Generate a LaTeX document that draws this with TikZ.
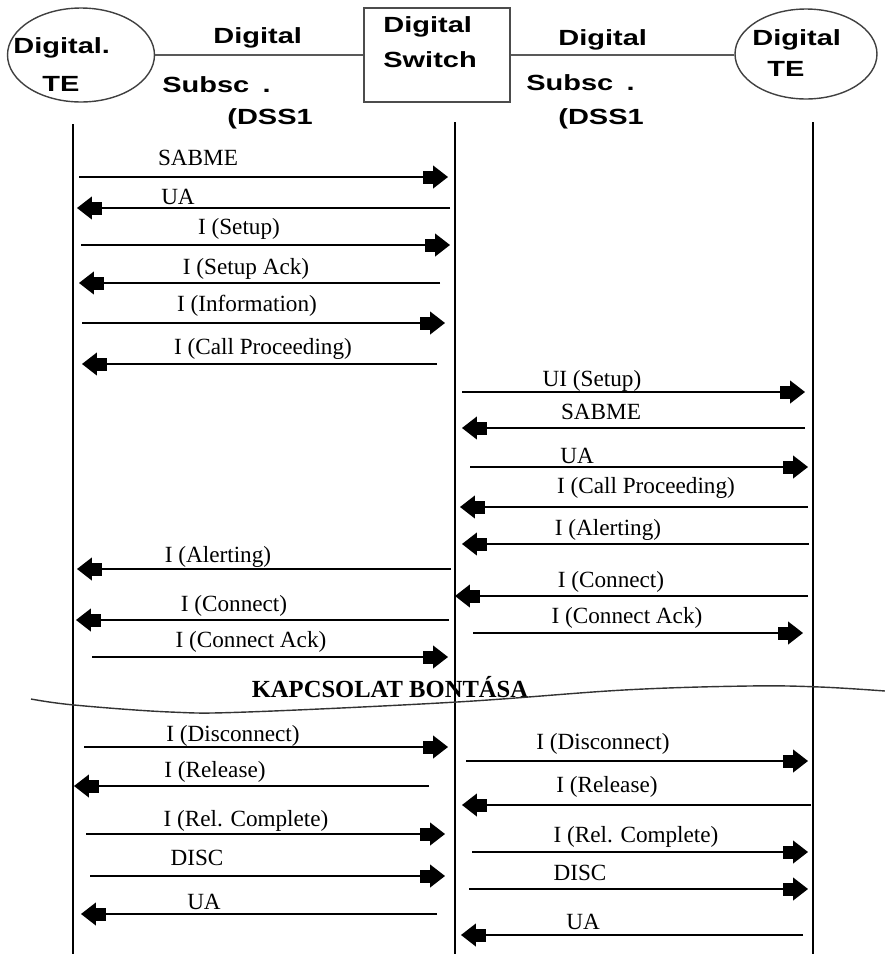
\documentclass[tikz,border=0pt]{standalone}
\usepackage{fontspec}
\setmainfont{Liberation Serif}
\newfontfamily\hdrfont{Liberation Sans}[FakeStretch=1.32]
\usetikzlibrary{shapes.geometric,arrows.meta}

\begin{document}
\begin{tikzpicture}[
  x=0.02cm, y=-0.02cm,
  lbl/.style={inner sep=0pt, font=\fontsize{13.2}{15}\selectfont},
  hdr/.style={inner sep=0pt, anchor=base west, font=\hdrfont\bfseries\fontsize{12.5}{14}\selectfont},
  term/.style={ellipse, draw=black!75, line width=0.8pt, inner sep=0pt},
  switchbox/.style={rectangle, draw=black!70, line width=1.1pt, inner sep=0pt},
  link/.style={draw=black!65, line width=1.1pt},
  life/.style={line width=0.8pt},
  msg/.style={line width=0.8pt, -{Rectangle[length=5.7pt,width=7.4pt,sep=0pt]Triangle[length=8.5pt,width=13pt,sep=0pt]}}
]
\useasboundingbox (0,0) rectangle (885,954);

% header
\node[term, minimum width=2.94cm, minimum height=1.88cm] (teA) at (81,55) {};
\node[switchbox, minimum width=2.92cm, minimum height=1.88cm] (sw) at (437,55) {};
\node[term, minimum width=2.84cm, minimum height=1.80cm] (teB) at (806,54) {};
\draw[link] (teA.east) -- (sw.west);
\draw[link] (sw.east) -- (sw.east -| teB.west);

\node[hdr] (teAa) at (13,53) {Digital.};
\node[hdr] (teAb) at (42,91) {TE};
\node[hdr] (swa) at (383,32) {Digital};
\node[hdr] (swb) at (383,67) {Switch};
\node[hdr] (teBa) at (752,45) {Digital};
\node[hdr] (teBb) at (767,76) {TE};
\node[hdr] (subA1) at (213,43) {Digital};
\node[hdr] (subA2) at (162,92) {Subsc\hspace{0.6em}.};
\node[hdr] (subA3) at (227,124) {(DSS1};
\node[hdr] (subB1) at (558,45) {Digital};
\node[hdr] (subB2) at (526,90) {Subsc\hspace{0.6em}.};
\node[hdr] (subB3) at (558,124) {(DSS1};

% lifelines
\coordinate (lifeAt) at (73,124);  \coordinate (lifeAb) at (73,954);
\coordinate (lifeSt) at (455,122); \coordinate (lifeSb) at (455,954);
\coordinate (lifeBt) at (813,122); \coordinate (lifeBb) at (813,954);
\draw[life] (lifeAt) -- (lifeAb);
\draw[life] (lifeSt) -- (lifeSb);
\draw[life] (lifeBt) -- (lifeBb);

% call setup, calling side
\coordinate (m1a) at (79,177);  \coordinate (m1b) at (448,177);
\node[lbl] (m1l) at (198,158) {SABME};
\draw[msg] (m1a) -- (m1b);
\coordinate (m2a) at (450,208); \coordinate (m2b) at (77,208);
\node[lbl] (m2l) at (178,197) {UA};
\draw[msg] (m2a) -- (m2b);
\coordinate (m3a) at (81,245);  \coordinate (m3b) at (450,245);
\node[lbl] (m3l) at (239,229) {I (Setup)};
\draw[msg] (m3a) -- (m3b);
\coordinate (m4a) at (440,283); \coordinate (m4b) at (79,283);
\node[lbl] (m4l) at (246,269) {I (Setup Ack)};
\draw[msg] (m4a) -- (m4b);
\coordinate (m5a) at (82,323);  \coordinate (m5b) at (445,323);
\node[lbl] (m5l) at (247,306) {I (Information)};
\draw[msg] (m5a) -- (m5b);
\coordinate (m6a) at (437,364); \coordinate (m6b) at (82,364);
\node[lbl] (m6l) at (263,349) {I (Call Proceeding)};
\draw[msg] (m6a) -- (m6b);

% call setup, called side
\coordinate (m7a) at (462,392);  \coordinate (m7b) at (805,392);
\node[lbl] (m7l) at (592,381) {UI (Setup)};
\draw[msg] (m7a) -- (m7b);
\coordinate (m8a) at (805,428);  \coordinate (m8b) at (462,428);
\node[lbl] (m8l) at (601,412) {SABME};
\draw[msg] (m8a) -- (m8b);
\coordinate (m9a) at (470,467);  \coordinate (m9b) at (808,467);
\node[lbl] (m9l) at (577,456) {UA};
\draw[msg] (m9a) -- (m9b);
\coordinate (m10a) at (808,507); \coordinate (m10b) at (460,507);
\node[lbl] (m10l) at (646,488) {I (Call Proceeding)};
\draw[msg] (m10a) -- (m10b);
\coordinate (m11a) at (809,544); \coordinate (m11b) at (462,544);
\node[lbl] (m11l) at (608,530) {I (Alerting)};
\draw[msg] (m11a) -- (m11b);
\coordinate (m12a) at (808,596); \coordinate (m12b) at (455,596);
\node[lbl] (m12l) at (611,582) {I (Connect)};
\draw[msg] (m12a) -- (m12b);
\coordinate (m13a) at (473,633); \coordinate (m13b) at (803,633);
\node[lbl] (m13l) at (627,618) {I (Connect Ack)};
\draw[msg] (m13a) -- (m13b);

\coordinate (m14a) at (451,569); \coordinate (m14b) at (77,569);
\node[lbl] (m14l) at (218,557) {I (Alerting)};
\draw[msg] (m14a) -- (m14b);
\coordinate (m15a) at (449,620); \coordinate (m15b) at (76,620);
\node[lbl] (m15l) at (234,606) {I (Connect)};
\draw[msg] (m15a) -- (m15b);
\coordinate (m16a) at (92,657);  \coordinate (m16b) at (448,657);
\node[lbl] (m16l) at (251,642) {I (Connect Ack)};
\draw[msg] (m16a) -- (m16b);

% release
\node[lbl, font=\bfseries\fontsize{14}{16}\selectfont] (relhead) at (390,687) {KAPCSOLAT BONTÁSA};
\draw[line width=0.8pt, black!80] plot[smooth, tension=0.6] coordinates
  {(31,699) (74,705) (170,712) (247,712) (457,702) (624,690) (749,686) (820,687) (885,691)};

\coordinate (m17a) at (84,747);  \coordinate (m17b) at (448,747);
\node[lbl] (m17l) at (233,736) {I (Disconnect)};
\draw[msg] (m17a) -- (m17b);
\coordinate (m18a) at (429,786); \coordinate (m18b) at (74,786);
\node[lbl] (m18l) at (215,772) {I (Release)};
\draw[msg] (m18a) -- (m18b);
\coordinate (m19a) at (86,834);  \coordinate (m19b) at (445,834);
\node[lbl] (m19l) at (246,821) {I (Rel. Complete)};
\draw[msg] (m19a) -- (m19b);
\coordinate (m20a) at (90,876);  \coordinate (m20b) at (445,876);
\node[lbl] (m20l) at (197,858) {DISC};
\draw[msg] (m20a) -- (m20b);
\coordinate (m21a) at (437,914); \coordinate (m21b) at (81,914);
\node[lbl] (m21l) at (204,902) {UA};
\draw[msg] (m21a) -- (m21b);

\coordinate (m22a) at (466,761); \coordinate (m22b) at (808,761);
\node[lbl] (m22l) at (603,744) {I (Disconnect)};
\draw[msg] (m22a) -- (m22b);
\coordinate (m23a) at (811,805); \coordinate (m23b) at (462,805);
\node[lbl] (m23l) at (607,787) {I (Release)};
\draw[msg] (m23a) -- (m23b);
\coordinate (m24a) at (472,852); \coordinate (m24b) at (808,852);
\node[lbl] (m24l) at (636,837) {I (Rel. Complete)};
\draw[msg] (m24a) -- (m24b);
\coordinate (m25a) at (469,889); \coordinate (m25b) at (808,889);
\node[lbl] (m25l) at (580,873) {DISC};
\draw[msg] (m25a) -- (m25b);
\coordinate (m26a) at (803,935); \coordinate (m26b) at (461,935);
\node[lbl] (m26l) at (583,922) {UA};
\draw[msg] (m26a) -- (m26b);

\end{tikzpicture}
\end{document}
